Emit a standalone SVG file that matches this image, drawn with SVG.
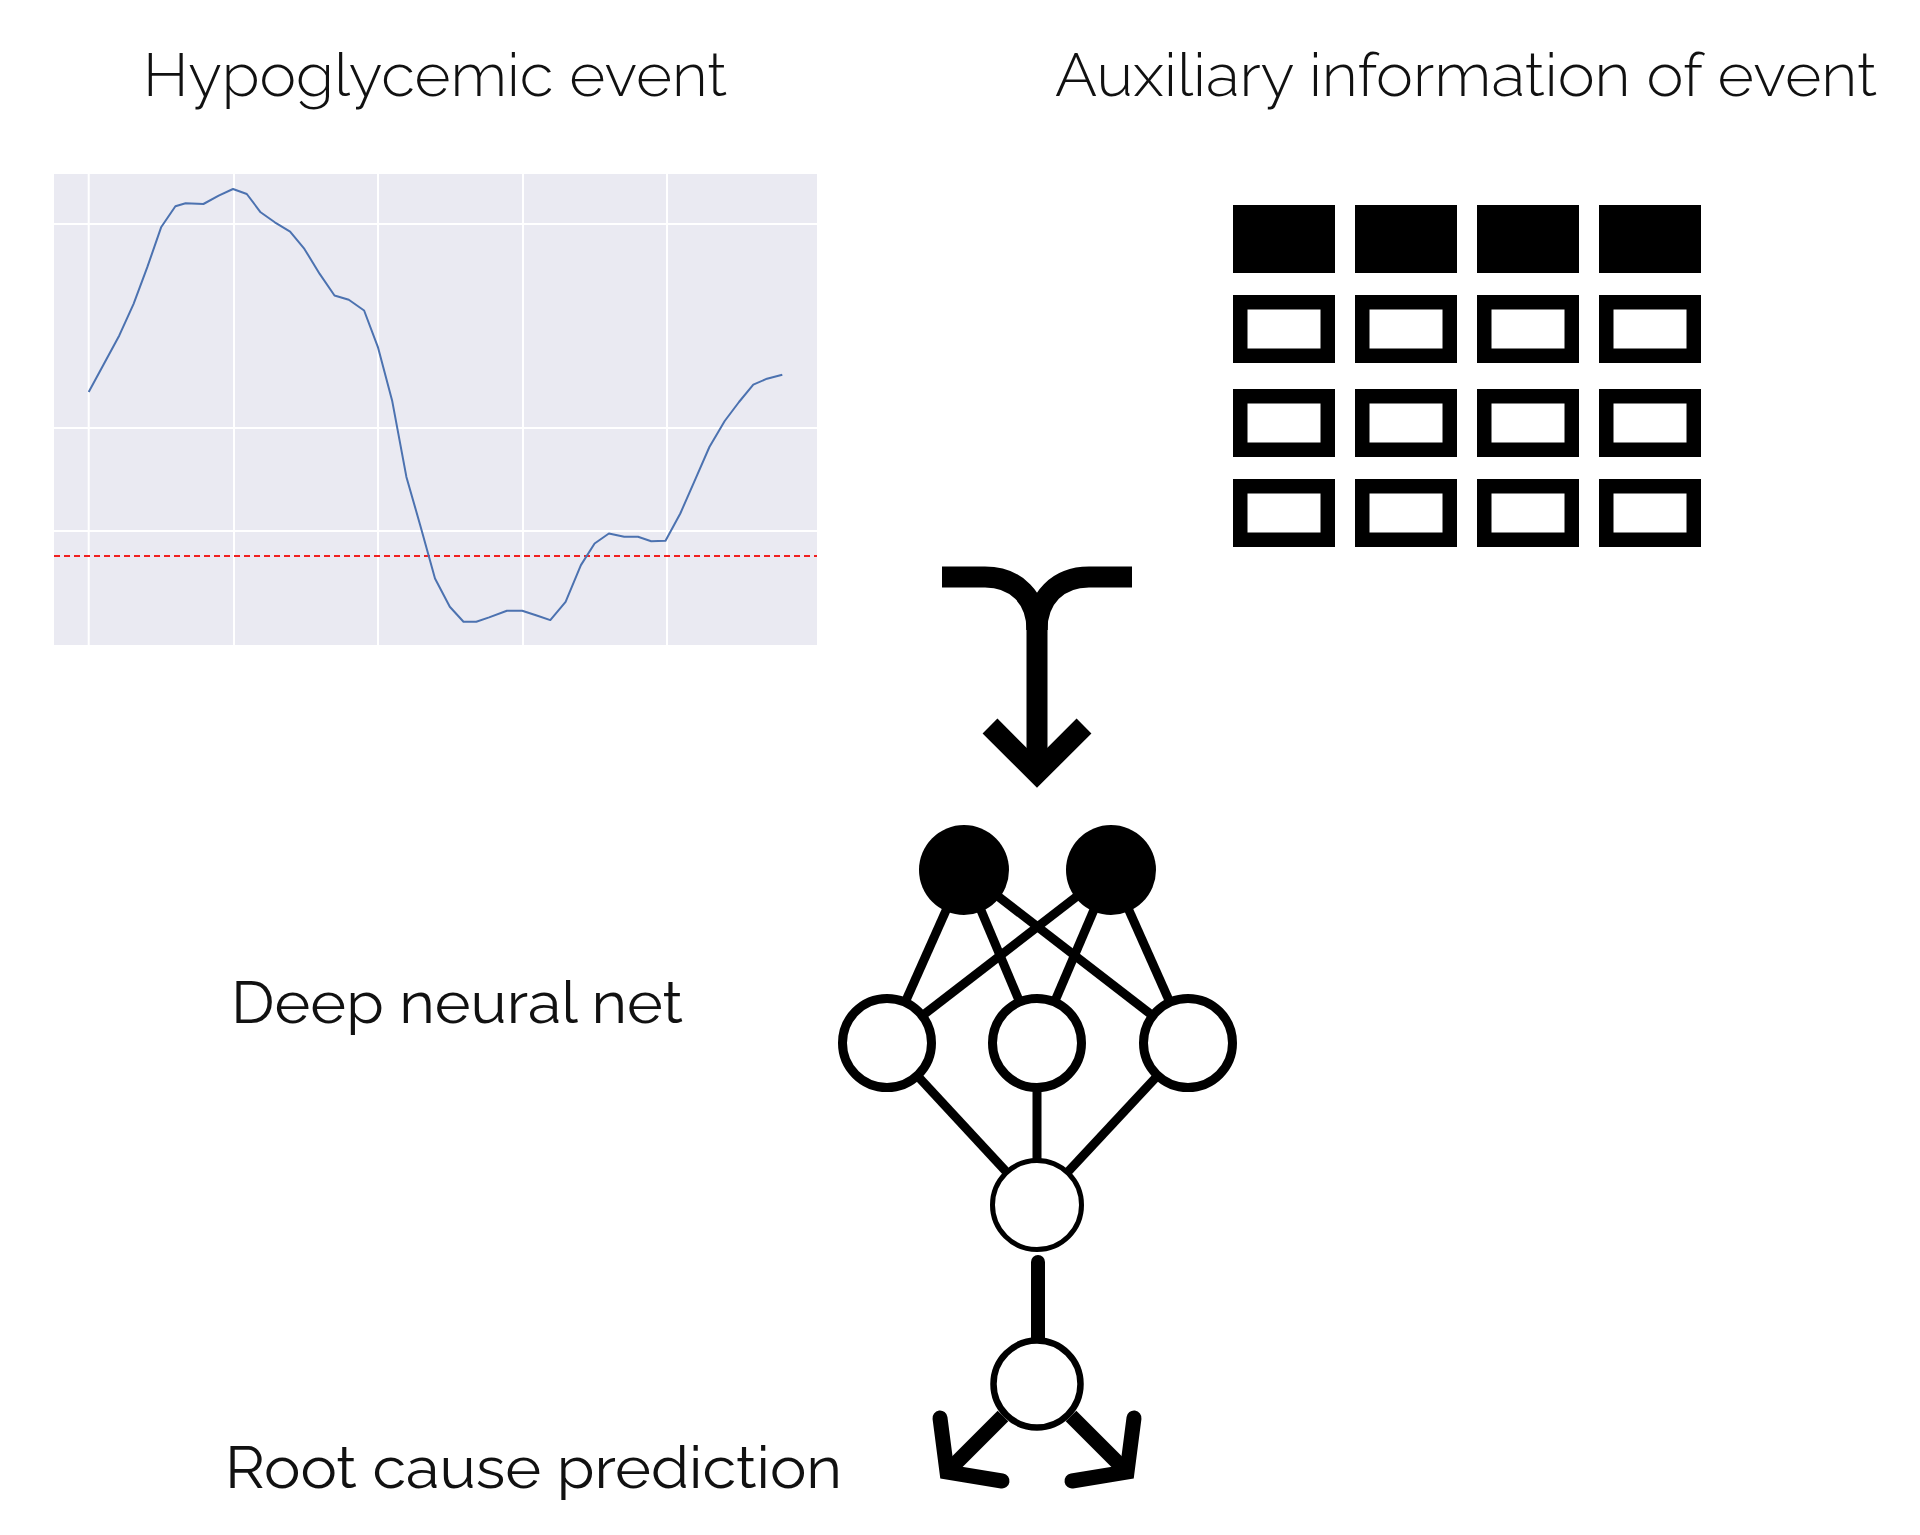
<svg xmlns="http://www.w3.org/2000/svg" width="1920" height="1535" viewBox="0 0 1920 1535">
<style>
  .lbl { font-family: Raleway, Lato, "Open Sans", "Liberation Sans", sans-serif; fill: #111; }
  .title { font-size: 60px; font-weight: 300; }
  .sub { font-size: 58px; font-weight: 400; }
  .grid { stroke: #ffffff; stroke-width: 2; }
  .edge { stroke: #000; stroke-width: 9; stroke-linecap: butt; fill: none; }
  .thick { stroke: #000; fill: none; }
  .cellFill { fill: #000; }
  .cellOut { fill: #fff; stroke: #000; stroke-width: 14.5; }
</style>
<rect width="1920" height="1535" fill="#ffffff"/>

<!-- Titles -->
<g id="title-hypo"><text class="lbl title" x="143" y="96" textLength="584" lengthAdjust="spacingAndGlyphs">Hypoglycemic event</text></g>
<g id="title-aux"><text class="lbl title" x="1055" y="96" textLength="822" lengthAdjust="spacingAndGlyphs">Auxiliary information of event</text></g>
<g id="label-dnn"><text class="lbl sub" x="231" y="1023" textLength="452" lengthAdjust="spacingAndGlyphs">Deep neural net</text></g>
<g id="label-root"><text class="lbl sub" x="225" y="1488" textLength="617" lengthAdjust="spacingAndGlyphs">Root cause prediction</text></g>

<!-- Chart -->
<g id="chart">
  <rect x="54" y="174" width="763" height="471" fill="#EAEAF2"/>
  <line class="grid" x1="88.7" y1="174" x2="88.7" y2="645"/>
  <line class="grid" x1="234" y1="174" x2="234" y2="645"/>
  <line class="grid" x1="378" y1="174" x2="378" y2="645"/>
  <line class="grid" x1="523" y1="174" x2="523" y2="645"/>
  <line class="grid" x1="667" y1="174" x2="667" y2="645"/>
  <line class="grid" x1="54" y1="224" x2="817" y2="224"/>
  <line class="grid" x1="54" y1="428" x2="817" y2="428"/>
  <line class="grid" x1="54" y1="531" x2="817" y2="531"/>
  <line x1="54" y1="556" x2="817" y2="556" stroke="#F02020" stroke-width="2" stroke-dasharray="6,4"/>
  <polyline fill="none" stroke="#4C72B0" stroke-width="2" stroke-linejoin="round" points="88.7,392 104,363.7 119.3,335.4 133.6,303.8 147.3,267.2 161.1,227.3 175.4,206.3 185.6,203.3 203.4,204 218.7,195.6 233,189 246.8,194 260.6,212.3 274.8,222.3 290.1,231.6 304.4,248.9 319.7,273.9 334.5,295.5 348.8,299.8 364.1,310.5 377.9,347.1 392.1,400.4 406.4,476.9 420.7,526.9 435,578.5 449.8,606.8 463.5,621.7 476.3,621.7 489.1,617.4 506.9,610.7 522.2,610.7 537.5,615.8 550.3,620.1 565.6,601.8 580.9,565.1 594.6,543.5 608.9,533.5 624.2,536.8 638,536.8 651.2,541.2 665.5,540.8 680.3,513.5 695.6,478.6 709.4,447 724.7,421 739,402 753.3,384.7 767,378.7 782.3,374.7"/>
</g>

<!-- Table -->
<g id="table">
  <rect class="cellFill" x="1233" y="205" width="102" height="68"/>
  <rect class="cellFill" x="1355" y="205" width="102" height="68"/>
  <rect class="cellFill" x="1477" y="205" width="102" height="68"/>
  <rect class="cellFill" x="1599" y="205" width="102" height="68"/>
  <rect class="cellOut" x="1240.25" y="302.25" width="87.5" height="53.5"/>
  <rect class="cellOut" x="1362.25" y="302.25" width="87.5" height="53.5"/>
  <rect class="cellOut" x="1484.25" y="302.25" width="87.5" height="53.5"/>
  <rect class="cellOut" x="1606.25" y="302.25" width="87.5" height="53.5"/>
  <rect class="cellOut" x="1240.25" y="396.25" width="87.5" height="53.5"/>
  <rect class="cellOut" x="1362.25" y="396.25" width="87.5" height="53.5"/>
  <rect class="cellOut" x="1484.25" y="396.25" width="87.5" height="53.5"/>
  <rect class="cellOut" x="1606.25" y="396.25" width="87.5" height="53.5"/>
  <rect class="cellOut" x="1240.25" y="486.25" width="87.5" height="53.5"/>
  <rect class="cellOut" x="1362.25" y="486.25" width="87.5" height="53.5"/>
  <rect class="cellOut" x="1484.25" y="486.25" width="87.5" height="53.5"/>
  <rect class="cellOut" x="1606.25" y="486.25" width="87.5" height="53.5"/>
</g>

<!-- Connectors -->
<g id="connectors">
  <g id="merge-arrow" class="thick" stroke-width="21">
    <path d="M942,577 H985 C1016,577 1037,598 1037,630"/>
    <path d="M1132,577 H1089 C1058,577 1037,598 1037,630"/>
    <path d="M1037,620 V772"/>
    <path d="M990,726 L1037,773 L1084,726" stroke-linejoin="miter"/>
  </g>
  <g id="nn-edges">
    <line class="edge" x1="964" y1="870" x2="887" y2="1043"/>
    <line class="edge" x1="964" y1="870" x2="1037" y2="1043"/>
    <line class="edge" x1="964" y1="870" x2="1188" y2="1043"/>
    <line class="edge" x1="1111" y1="870" x2="887" y2="1043"/>
    <line class="edge" x1="1111" y1="870" x2="1037" y2="1043"/>
    <line class="edge" x1="1111" y1="870" x2="1188" y2="1043"/>
    <line class="edge" x1="887" y1="1043" x2="1037" y2="1205"/>
    <line class="edge" x1="1037" y1="1043" x2="1037" y2="1205"/>
    <line class="edge" x1="1188" y1="1043" x2="1037" y2="1205"/>
  </g>
  <line id="stem" x1="1038" y1="1262" x2="1038" y2="1340" stroke="#000" stroke-width="14" stroke-linecap="round"/>
  <g id="out-arrows" class="thick" stroke-width="15" stroke-linecap="round" stroke-linejoin="miter">
    <path d="M1003,1416 L952,1467" stroke-linecap="butt"/>
    <path d="M940,1418 L947,1472 L1002,1481"/>
    <path d="M1071,1416 L1122,1467" stroke-linecap="butt"/>
    <path d="M1134,1418 L1127,1472 L1072,1481"/>
  </g>
</g>

<!-- Neural net nodes -->
<g id="node-in-1"><circle cx="964" cy="870" r="45" fill="#000"/></g>
<g id="node-in-2"><circle cx="1111" cy="870" r="45" fill="#000"/></g>
<g id="node-h-1"><circle cx="887" cy="1043" r="44.5" fill="#fff" stroke="#000" stroke-width="9"/></g>
<g id="node-h-2"><circle cx="1037" cy="1043" r="44.5" fill="#fff" stroke="#000" stroke-width="9"/></g>
<g id="node-h-3"><circle cx="1188" cy="1043" r="44.5" fill="#fff" stroke="#000" stroke-width="9"/></g>
<g id="node-out"><circle cx="1037" cy="1205" r="44.5" fill="#fff" stroke="#000" stroke-width="5"/></g>
<g id="node-root"><circle cx="1037" cy="1384" r="43.5" fill="#fff" stroke="#000" stroke-width="6.5"/></g>
</svg>
